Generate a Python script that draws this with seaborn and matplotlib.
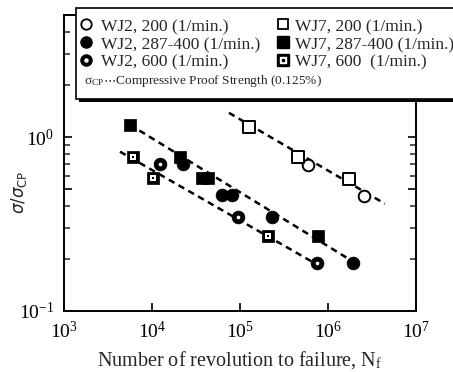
import numpy as np
import pandas as pd
import seaborn as sns
import matplotlib
matplotlib.use("Agg")
import matplotlib.pyplot as plt
from matplotlib.lines import Line2D
from matplotlib.patches import Rectangle
from matplotlib.ticker import FixedLocator, NullFormatter, FuncFormatter

# ---- data: cycles to failure and normalized stress ----
wj2_200_n = [5.93e5, 2.56e6]
wj2_200_s = [0.694, 0.460]
wj7_200_n = [1.26e5, 4.56e5, 1.73e6]
wj7_200_s = [1.15, 0.772, 0.577]

wj2_mid_n = [2.25e4, 6.24e4, 8.11e4, 2.31e5, 1.92e6]
wj2_mid_s = [0.703, 0.466, 0.466, 0.348, 0.189]
wj7_mid_n = [5.62e3, 2.08e4, 3.70e4, 4.33e4, 7.69e5]
wj7_mid_s = [1.18, 0.772, 0.584, 0.584, 0.271]

wj2_600_n = [1.23e4, 9.50e4, 7.50e5]
wj2_600_s = [0.703, 0.348, 0.189]
wj7_600_n = [6.08e3, 1.03e4, 2.08e5]
wj7_600_s = [0.772, 0.584, 0.271]

# fitted S-N lines (end points)
fit_200_n = [7.5e4, 4.45e6]
fit_200_s = [1.38, 0.414]
fit_mid_n = [5.6e3, 2.31e6]
fit_mid_s = [1.18, 0.182]
fit_600_n = [4.33e3, 8.77e5]
fit_600_s = [0.825, 0.177]

legend_labels = ["WJ2, 200 (1/min.)", "WJ2, 287-400 (1/min.)", "WJ2, 600 (1/min.)",
                 "WJ7, 200 (1/min.)", "WJ7, 287-400 (1/min.)", "WJ7, 600  (1/min.)"]
note_text = r"$\mathregular{\sigma_{CP}}$$\cdots$Compressive Proof Strength (0.125%)"

sns.set_theme(style="ticks")
plt.rcParams["font.family"] = ["Liberation Serif", "DejaVu Serif"]
plt.rcParams["mathtext.fontset"] = "stix"
plt.rcParams["axes.linewidth"] = 1.4

fig = plt.figure(figsize=(4.53, 3.72), dpi=100)
ax = fig.add_axes([0.1413, 0.164, 0.918 - 0.1413, 0.960 - 0.164])

# fit lines
for n, s in [(fit_200_n, fit_200_s), (fit_mid_n, fit_mid_s), (fit_600_n, fit_600_s)]:
    sns.lineplot(x=n, y=s, ax=ax, color="black", lw=1.8, dashes=False,
                 linestyle=(0, (2.6, 1.9)), zorder=2, legend=False)

def open_pts(n, s, marker, size):
    sns.scatterplot(x=n, y=s, ax=ax, marker=marker, s=size, facecolor="white",
                    edgecolor="black", linewidth=1.4, zorder=3, legend=False)

def solid_pts(n, s, marker, size):
    sns.scatterplot(x=n, y=s, ax=ax, marker=marker, s=size, color="black",
                    edgecolor="black", linewidth=0.5, zorder=3, legend=False)

open_pts(wj2_200_n, wj2_200_s, "o", 70)
open_pts(wj7_200_n, wj7_200_s, "s", 70)
solid_pts(wj2_mid_n, wj2_mid_s, "o", 85)
solid_pts(wj7_mid_n, wj7_mid_s, "s", 80)
# dotted circle: black disc with white centre
solid_pts(wj2_600_n, wj2_600_s, "o", 85)
sns.scatterplot(x=wj2_600_n, y=wj2_600_s, ax=ax, marker="o", s=7, color="white",
                linewidth=0, zorder=4, legend=False)
# dotted square: black square, white inside, black speck
solid_pts(wj7_600_n, wj7_600_s, "s", 80)
sns.scatterplot(x=wj7_600_n, y=wj7_600_s, ax=ax, marker="s", s=22, color="white",
                linewidth=0, zorder=4, legend=False)
sns.scatterplot(x=wj7_600_n, y=wj7_600_s, ax=ax, marker="s", s=3, color="black",
                linewidth=0, zorder=5, legend=False)

ax.set_xscale("log")
ax.set_yscale("log")
ax.set_xlim(1e3, 1e7)
ax.set_ylim(0.1, 5.05)

ax.xaxis.set_major_locator(FixedLocator([1e3, 1e4, 1e5, 1e6, 1e7]))
ax.xaxis.set_minor_locator(FixedLocator([]))
ax.yaxis.set_major_locator(FixedLocator([0.1, 0.5, 1.0]))
ax.yaxis.set_minor_locator(FixedLocator([0.2, 0.3, 0.4, 0.6, 0.7, 0.8, 0.9, 2, 3, 4]))
ax.yaxis.set_minor_formatter(NullFormatter())

def decade(v, pos):
    e = int(round(np.log10(v)))
    if abs(np.log10(v) - e) > 1e-6:
        return ""
    return r"$\mathregular{10^{%d}}$" % e

ax.xaxis.set_major_formatter(FuncFormatter(decade))
ax.yaxis.set_major_formatter(FuncFormatter(decade))

ax.tick_params(axis="both", which="major", direction="in", length=6, width=1.2,
               labelsize=14, colors="black", pad=7)
ax.tick_params(axis="y", which="both", right=True, direction="in")
ax.tick_params(axis="y", which="minor", length=4.5, width=1.1)
ax.tick_params(axis="x", top=False)
for sp in ax.spines.values():
    sp.set_visible(True)
    sp.set_color("black")

ax.set_xlabel(r"Number of revolution to failure, N$_\mathregular{f}$", fontsize=14.5,
              va="center")
ax.xaxis.set_label_coords(0.5, -0.166)
ax.set_ylabel(r"$\sigma/\sigma_{\rm CP}$", fontsize=12, math_fontfamily="dejavusans",
              va="center")
ax.yaxis.set_label_coords(-0.128, 0.402)

# key box, positioned in figure pixels
W, H = fig.bbox.width, fig.bbox.height
def fx(px):
    return px / W
def fy(py):
    return 1 - py / H

shadow = Rectangle((fx(79), fy(102)), fx(460) - fx(79), fy(10) - fy(102),
                   transform=fig.transFigure, facecolor="black", edgecolor="none",
                   zorder=9)
box = Rectangle((fx(76), fy(99)), fx(460) - fx(76), fy(8) - fy(99),
                transform=fig.transFigure, facecolor="white", edgecolor="black",
                lw=1.2, zorder=10)
fig.add_artist(shadow)
fig.add_artist(box)

def key_marker(x, y, **kw):
    fig.add_artist(Line2D([fx(x)], [fy(y)], transform=fig.transFigure, ls="none",
                          zorder=12, **kw))

open_kw = dict(ms=7.5, mfc="white", mec="black", mew=1.3)
solid_kw = dict(ms=8, mfc="black", mec="black")
row_marker_y = [24.3, 42.0, 59.5]
row_base_y = [31, 49, 66.5]
col_marker_x = [86, 283]
col_text_x = [101, 295]

# column 1: WJ2 circles
key_marker(col_marker_x[0], row_marker_y[0], marker="o", **open_kw)
key_marker(col_marker_x[0], row_marker_y[1], marker="o", **solid_kw)
key_marker(col_marker_x[0], row_marker_y[2], marker="o", **solid_kw)
key_marker(col_marker_x[0], row_marker_y[2], marker="o", ms=2.2, mfc="white", mec="white")
# column 2: WJ7 squares
key_marker(col_marker_x[1], row_marker_y[0], marker="s", **open_kw)
key_marker(col_marker_x[1], row_marker_y[1], marker="s", **solid_kw)
key_marker(col_marker_x[1], row_marker_y[2], marker="s", **solid_kw)
key_marker(col_marker_x[1], row_marker_y[2], marker="s", ms=4, mfc="white", mec="white")
key_marker(col_marker_x[1], row_marker_y[2], marker="s", ms=1.5, mfc="black", mec="black")

for i, lab in enumerate(legend_labels):
    col, row = divmod(i, 3)
    fig.text(fx(col_text_x[col]), fy(row_base_y[row]), lab, fontsize=12.5,
             ha="left", va="baseline", zorder=12)

fig.text(fx(84), fy(84), note_text, fontsize=9.6, va="baseline", ha="left", zorder=12)

fig.savefig("out.png", dpi=100)
